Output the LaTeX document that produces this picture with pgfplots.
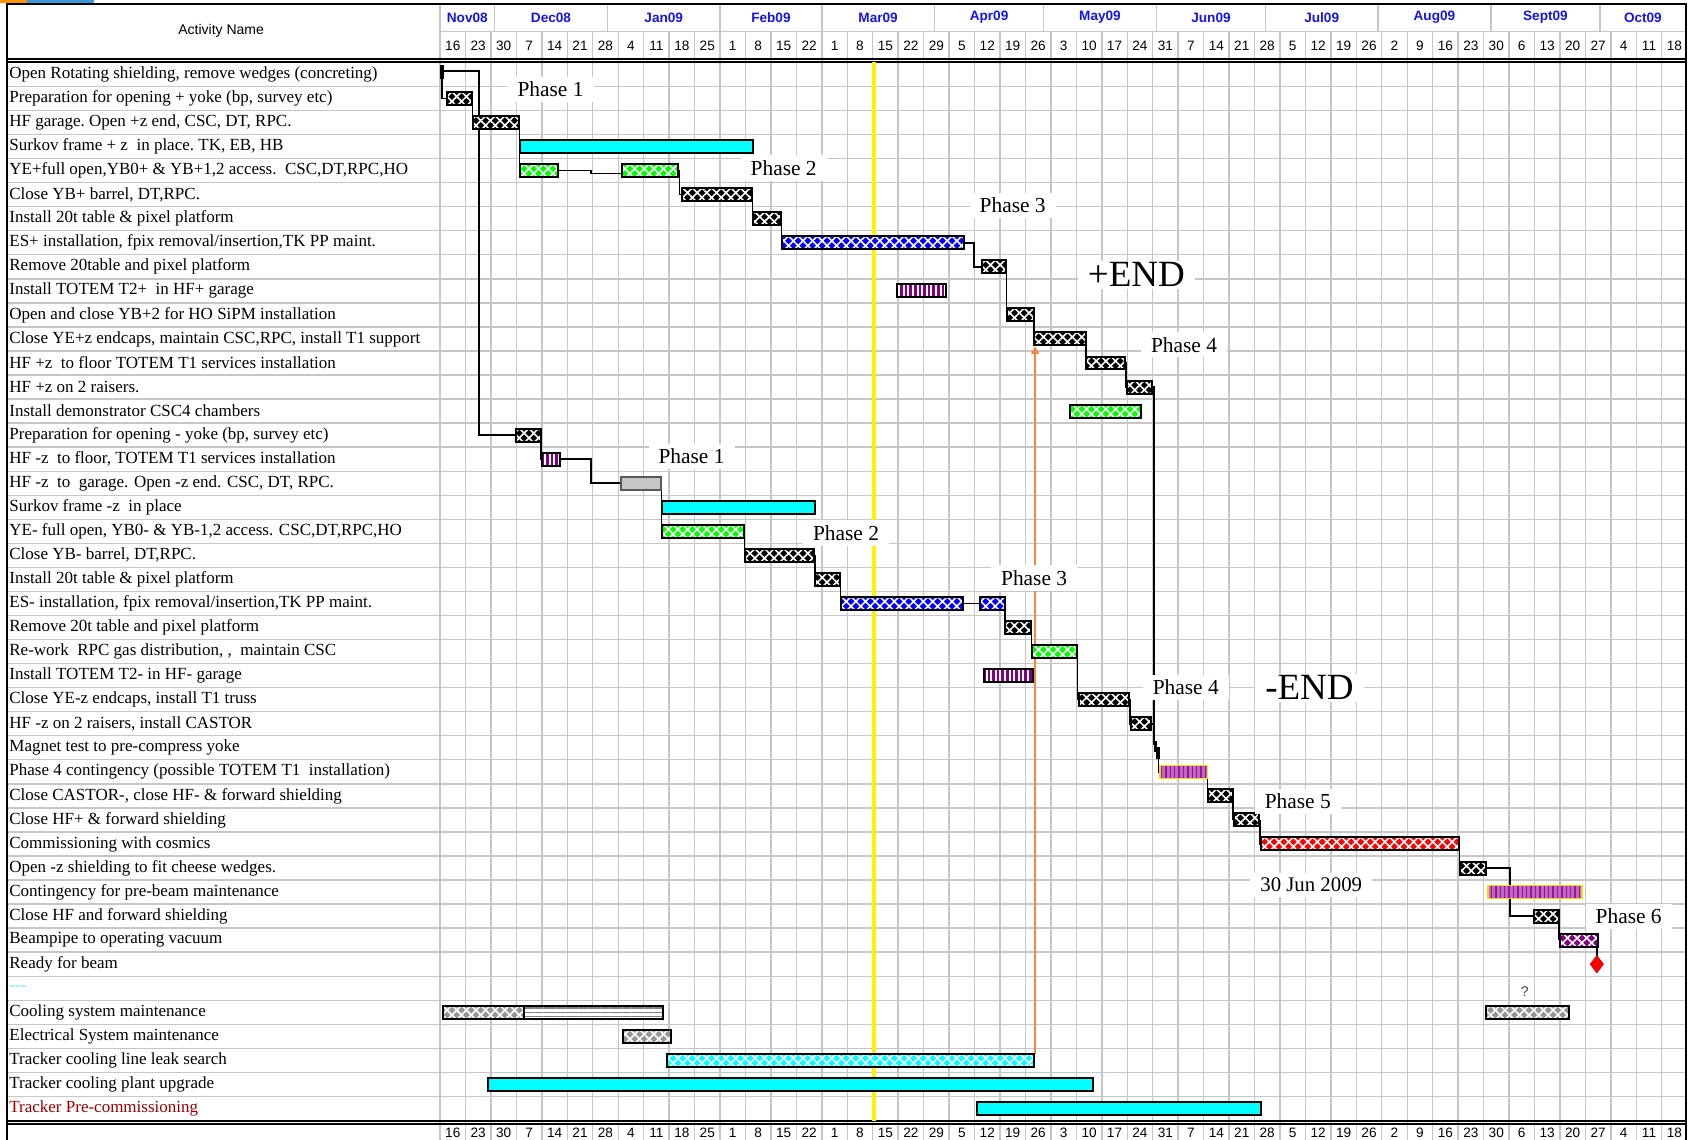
\documentclass[border=0pt]{standalone}
\usepackage{fontspec}
\setmainfont{Liberation Serif}
\newfontfamily\hdrfont{Liberation Sans}
\usepackage{xcolor}
\usepackage{pgfplots}
\pgfplotsset{compat=1.18}
\usetikzlibrary{patterns.meta,arrows.meta}

\definecolor{gridc}{RGB}{198,198,198}
\definecolor{monthblue}{RGB}{20,20,235}
\definecolor{mspurple}{RGB}{128,0,128}
\definecolor{lightpurple}{RGB}{196,100,196}
\definecolor{stripepurple}{RGB}{140,30,140}
\definecolor{arroworange}{RGB}{240,135,70}
\definecolor{darkred}{RGB}{150,0,0}
\definecolor{hatchgray}{RGB}{150,150,150}
\definecolor{bordyellow}{RGB}{250,215,0}
\definecolor{aqua}{RGB}{0,255,255}
\definecolor{lime}{RGB}{0,255,0}
\definecolor{pureblue}{RGB}{0,0,255}
\definecolor{purered}{RGB}{255,0,0}
\definecolor{dashcyan}{RGB}{120,230,240}

\tikzset{
  conn/.style={draw=black, line width=0.8pt},
  weave/.style={preaction={fill=#1}, pattern={Hatch[angle=45,distance=3.4pt,line width=0.8pt]},
    pattern color=white, draw=black, line width=1pt},
  blk/.style={weave=black},
  grn/.style={weave=lime},
  blu/.style={weave=pureblue},
  redb/.style={weave=purered},
  purb/.style={weave=mspurple},
  grayb/.style={weave=hatchgray},
  cyanh/.style={weave=aqua},
  cyanb/.style={fill=aqua, draw=black, line width=1pt},
  graysolid/.style={fill=gray!45, draw=gray!70!black, line width=0.8pt},
  stripe/.style={preaction={fill=white}, pattern={Lines[angle=90,distance=2.3pt,line width=1.3pt]},
    pattern color=mspurple, draw=black, line width=1pt},
  lstripe/.style={preaction={fill=lightpurple}, pattern={Lines[angle=90,distance=2.2pt,line width=0.7pt]},
    pattern color=stripepurple, draw=bordyellow, line width=0.8pt},
  hlines/.style={preaction={fill=white}, pattern={Lines[angle=0,distance=2.2pt,line width=0.6pt]},
    pattern color=gray, draw=black, line width=1pt},
  wklbl/.style={font=\hdrfont\fontsize{6.8}{8}\selectfont, inner sep=0pt},
  mlbl/.style={font=\hdrfont\bfseries\fontsize{6.8}{8}\selectfont, text=monthblue, inner sep=0pt},
  lbl/.style={fill=white, inner xsep=5pt, inner ysep=2.5pt, font=\fontsize{10.7}{12}\selectfont},
  endlbl/.style={fill=white, inner xsep=5pt, inner ysep=1pt, font=\fontsize{18.5}{20}\selectfont},
}

% one bar: style, start week, end week, row
\newcommand\gbar[4]{\addplot[#1, y filter/.expression={y+#4}] coordinates {(#2,-0.27) (#3,-0.27) (#3,0.27) (#2,0.27)} -- cycle;}
\def\wk#1/#2\relax{%
  \node[wklbl] at (axis cs:#1.5,-0.19) {#2};
  \node[wklbl] at (axis cs:#1.5,45.0) {#2};}

\begin{document}
\begin{tikzpicture}
\begin{axis}[
  scale only axis, width=845.5pt, height=570pt,
  xmin=-17.29, xmax=49.15, ymin=-2.095, ymax=45.31, y dir=reverse,
  axis line style={draw=none}, major tick length=0pt,
  xtick=\empty, ytick={1,...,44},
  yticklabels={
    {Open Rotating shielding, remove wedges (concreting)},
    {Preparation for opening + yoke (bp, survey etc)},
    {HF garage.\ Open +z end, CSC, DT, RPC.},
    {Surkov frame + z\ \ in place.\ TK, EB, HB},
    {YE+full open,YB0+ \& YB+1,2 access.\ \ CSC,DT,RPC,HO},
    {Close YB+ barrel, DT,RPC.},
    {Install 20t table \& pixel platform},
    {ES+ installation, fpix removal/insertion,TK PP maint.},
    {Remove 20table and pixel platform},
    {Install TOTEM T2+\ \ in HF+ garage},
    {Open and close YB+2 for HO SiPM installation},
    {Close YE+z endcaps, maintain CSC,RPC, install T1 support},
    {HF +z\ \ to floor TOTEM T1 services installation},
    {HF +z on 2 raisers.},
    {Install demonstrator CSC4 chambers},
    {Preparation for opening - yoke (bp, survey etc)},
    {HF -z\ \ to floor, TOTEM T1 services installation},
    {HF -z\ \ to\ \ garage. Open -z end. CSC, DT, RPC.},
    {Surkov frame -z\ \ in place},
    {YE- full open, YB0- \& YB-1,2 access. CSC,DT,RPC,HO},
    {Close YB- barrel, DT,RPC.},
    {Install 20t table \& pixel platform},
    {ES- installation, fpix removal/insertion,TK PP maint.},
    {Remove 20t table and pixel platform},
    {Re-work\ \ RPC gas distribution, ,\ \ maintain CSC},
    {Install TOTEM T2- in HF- garage},
    {Close YE-z endcaps, install T1 truss},
    {HF -z on 2 raisers, install CASTOR},
    {Magnet test to pre-compress yoke},
    {Phase 4 contingency (possible TOTEM T1\ \ installation)},
    {Close CASTOR-, close HF- \& forward shielding},
    {Close HF+ \& forward shielding},
    {Commissioning with cosmics},
    {Open -z shielding to fit cheese wedges.},
    {Contingency for pre-beam maintenance},
    {Close HF and forward shielding},
    {Beampipe to operating vacuum},
    {Ready for beam},
    {\textcolor{dashcyan}{-{}-{}-}},
    {Cooling system maintenance},
    {Electrical System maintenance},
    {Tracker cooling line leak search},
    {Tracker cooling plant upgrade},
    {\textcolor{darkred}{Tracker Pre-commissioning}}},
  yticklabel style={anchor=west, inner sep=0pt, xshift=4.5pt, font=\fontsize{8.5}{10}\selectfont},
  clip=false,
]
% grid
\pgfplotsinvokeforeach{1,...,48}{\draw[gridc, line width=0.7pt] (axis cs:#1,-0.78) -- (axis cs:#1,45.31);}
\draw[gridc, line width=0.7pt] (axis cs:0,-1.91) -- (axis cs:0,45.31);
\pgfplotsinvokeforeach{1,...,43}{\draw[gridc, line width=0.7pt] (axis cs:-17.03,#1.5) -- (axis cs:48.95,#1.5);}
\draw[gridc, line width=0.7pt] (axis cs:0,-0.78) -- (axis cs:48.95,-0.78);
\pgfplotsinvokeforeach{2.143,6.571,11,15,19.429,23.714,28.143,32.429,36.857,41.286,45.571}{
  \draw[gridc, line width=0.7pt] (axis cs:#1,-1.91) -- (axis cs:#1,-0.78);}
% frame
\draw[black, line width=1pt] (axis cs:-17.03,45.31) -- (axis cs:-17.03,-1.91) -- (axis cs:48.95,-1.91) -- (axis cs:48.95,45.31);
\draw[black, line width=1.1pt] (axis cs:-17.03,0.37) -- (axis cs:48.95,0.37);
\draw[black, line width=0.7pt] (axis cs:-17.03,0.49) -- (axis cs:48.95,0.49);
\draw[black, line width=0.7pt] (axis cs:-17.03,44.52) -- (axis cs:48.95,44.52);
\draw[black, line width=1.1pt] (axis cs:-17.03,44.64) -- (axis cs:48.95,44.64);
\fill[orange!85!yellow] (axis cs:-17.29,-2.095) rectangle (axis cs:-16.23,-1.97);
\fill[cyan!70!blue!80] (axis cs:-16.23,-2.095) rectangle (axis cs:-13.6,-1.97);

% header
\node[font=\hdrfont\fontsize{7}{8}\selectfont] at (axis cs:-8.6,-0.82) {Activity Name};
\node[mlbl] at (axis cs:1.07,-1.37) {Nov08};
\node[mlbl] at (axis cs:4.36,-1.37) {Dec08};
\node[mlbl] at (axis cs:8.79,-1.37) {Jan09};
\node[mlbl] at (axis cs:13.0,-1.37) {Feb09};
\node[mlbl] at (axis cs:17.21,-1.37) {Mar09};
\node[mlbl] at (axis cs:21.57,-1.37) {Apr09};
\node[mlbl] at (axis cs:25.93,-1.37) {May09};
\node[mlbl] at (axis cs:30.29,-1.37) {Jun09};
\node[mlbl] at (axis cs:34.64,-1.37) {Jul09};
\node[mlbl] at (axis cs:39.07,-1.37) {Aug09};
\node[mlbl] at (axis cs:43.43,-1.37) {Sept09};
\node[mlbl] at (axis cs:47.26,-1.37) {Oct09};
\pgfplotsinvokeforeach{0/16,1/23,2/30,3/7,4/14,5/21,6/28,7/4,8/11,9/18,10/25,11/1,12/8,13/15,14/22,15/1,16/8,17/15,18/22,19/29,20/5,21/12,22/19,23/26,24/3,25/10,26/17,27/24,28/31,29/7,30/14,31/21,32/28,33/5,34/12,35/19,36/26,37/2,38/9,39/16,40/23,41/30,42/6,43/13,44/20,45/27,46/4,47/11,48/18}{\wk#1\relax}

% status date and the tracker link
\draw[yellow, line width=2pt] (axis cs:17.05,0.5) -- (axis cs:17.05,44.5);
\draw[arroworange, line width=0.9pt, -{Triangle[width=4pt,length=4pt]}] (axis cs:23.38,41.73) -- (axis cs:23.38,12.3);

% links
\addplot[conn] coordinates {(0.15,0.85) (1.52,0.85) (1.52,16) (2.97,16)};
\addplot[conn] coordinates {(0.08,1.15) (0.08,2) (0.27,2)};
\addplot[conn] coordinates {(1.27,2) (1.27,3)};
\addplot[conn] coordinates {(3.12,3) (3.12,5) (3.16,5)};
\addplot[conn] coordinates {(4.62,5) (5.93,5) (5.93,5.12) (7.15,5.12)};
\addplot[conn] coordinates {(9.34,5) (9.4,5) (9.4,6) (9.49,6)};
\addplot[conn] coordinates {(12.28,6) (12.28,7)};
\addplot[conn] coordinates {(13.42,7) (13.42,8)};
\addplot[conn] coordinates {(20.57,8) (20.98,8) (20.98,9) (21.3,9)};
\addplot[conn] coordinates {(22.26,9) (22.26,11)};
\addplot[conn] coordinates {(23.34,11) (23.34,12)};
\addplot[conn] coordinates {(25.38,12) (25.38,13)};
\addplot[conn] coordinates {(26.9,13) (26.95,13) (26.95,14) (27.0,14)};
\addplot[conn] coordinates {(27.97,14) (28.06,14) (28.06,28.9)};
\addplot[conn] coordinates {(27.95,28) (28.06,28)};
\addplot[conn] coordinates {(28.22,29.4) (28.22,30) (28.28,30)};
\addplot[conn] coordinates {(30.16,30) (30.16,31)};
\addplot[conn] coordinates {(31.16,31) (31.16,32)};
\addplot[conn] coordinates {(32.21,32) (32.21,33) (32.26,33)};
\addplot[conn] coordinates {(40.05,33) (40.05,34)};
\addplot[conn] coordinates {(41.11,34) (42.04,34) (42.04,36) (42.97,36)};
\addplot[conn] coordinates {(43.97,36) (43.97,37)};
\addplot[conn] coordinates {(45.45,37) (45.45,38)};
\addplot[conn] coordinates {(3.96,16) (3.96,17) (4.0,17)};
\addplot[conn] coordinates {(4.7,17) (5.93,17) (5.93,18) (7.11,18)};
\addplot[conn] coordinates {(8.68,18) (8.7,18) (8.7,20) (8.72,20)};
\addplot[conn] coordinates {(11.93,20) (11.96,20) (11.96,21)};
\addplot[conn] coordinates {(14.72,21) (14.72,22)};
\addplot[conn] coordinates {(15.72,22) (15.74,22) (15.74,23)};
\addplot[conn] coordinates {(20.55,23) (21.2,23)};
\addplot[conn] coordinates {(22.18,23) (22.19,23) (22.19,24)};
\addplot[conn] coordinates {(23.2,24) (23.23,24) (23.23,25) (23.27,25)};
\addplot[conn] coordinates {(25.02,25) (25.05,25) (25.05,27) (25.09,27)};
\addplot[conn] coordinates {(27.07,27) (27.1,27) (27.1,28) (27.13,28)};

% small marks
\addplot[fill=black, draw=black, line width=0.5pt] coordinates {(0,0.62) (0.15,0.62) (0.15,1.15) (0,1.15)} -- cycle;
\addplot[fill=black, draw=black, line width=0.5pt] coordinates {(28.09,28.75) (28.16,28.75) (28.16,29.15) (28.09,29.15)} -- cycle;
\addplot[fill=black, draw=black, line width=0.5pt] coordinates {(28.16,29.0) (28.25,29.0) (28.25,29.45) (28.16,29.45)} -- cycle;

% bars
\gbar{blk}{0.27}{1.26}{2}
\gbar{blk}{1.28}{3.10}{3}
\gbar{cyanb}{3.16}{12.30}{4}
\gbar{grn}{3.16}{4.62}{5}
\gbar{grn}{7.15}{9.34}{5}
\gbar{blk}{9.49}{12.26}{6}
\gbar{blk}{12.30}{13.40}{7}
\gbar{blu}{13.44}{20.57}{8}
\gbar{blk}{21.30}{22.24}{9}
\gbar{stripe}{17.94}{19.89}{10}
\gbar{blk}{22.28}{23.34}{11}
\gbar{blk}{23.34}{25.38}{12}
\gbar{blk}{25.38}{26.90}{13}
\gbar{blk}{27.00}{27.97}{14}
\gbar{grn}{24.75}{27.55}{15}
\gbar{blk}{2.97}{3.95}{16}
\gbar{stripe}{4.00}{4.70}{17}
\gbar{graysolid}{7.11}{8.68}{18}
\gbar{cyanb}{8.72}{14.73}{19}
\gbar{grn}{8.72}{11.93}{20}
\gbar{blk}{11.98}{14.71}{21}
\gbar{blk}{14.73}{15.72}{22}
\gbar{blu}{15.76}{20.55}{23}
\gbar{blu}{21.20}{22.18}{23}
\gbar{blk}{22.20}{23.20}{24}
\gbar{grn}{23.27}{25.02}{25}
\gbar{stripe}{21.36}{23.29}{26}
\gbar{blk}{25.09}{27.07}{27}
\gbar{blk}{27.13}{27.95}{28}
\gbar{lstripe}{28.28}{30.16}{30}
\gbar{blk}{30.16}{31.14}{31}
\gbar{blk}{31.18}{32.19}{32}
\gbar{redb}{32.26}{40.03}{33}
\gbar{blk}{40.08}{41.11}{34}
\gbar{lstripe}{41.18}{44.86}{35}
\gbar{blk}{42.97}{43.97}{36}
\gbar{purb}{44.00}{45.48}{37}
\gbar{grayb}{0.13}{3.29}{40}
\gbar{hlines}{3.29}{8.74}{40}
\gbar{grayb}{41.10}{44.36}{40}
\gbar{grayb}{7.19}{9.06}{41}
\gbar{cyanh}{8.92}{23.34}{42}
\gbar{cyanb}{1.90}{25.64}{43}
\gbar{cyanb}{21.09}{32.25}{44}
\addplot[only marks, mark=diamond*, mark size=4.3pt, mark options={fill=purered, draw=purered!85!black}] coordinates {(45.45,38)};

% notes
\node[lbl] at (axis cs:4.34,1.63) {Phase 1};
\node[lbl] at (axis cs:13.5,4.89) {Phase 2};
\node[lbl] at (axis cs:22.5,6.45) {Phase 3};
\node[endlbl] at (axis cs:27.36,9.33) {+END};
\node[lbl] at (axis cs:29.23,12.25) {Phase 4};
\node[lbl] at (axis cs:9.88,16.88) {Phase 1};
\node[lbl] at (axis cs:15.95,20.07) {Phase 2};
\node[lbl] at (axis cs:23.34,21.94) {Phase 3};
\node[lbl] at (axis cs:29.3,26.5) {Phase 4};
\node[endlbl] at (axis cs:34.16,26.5) {-END};
\node[lbl] at (axis cs:33.7,31.24) {Phase 5};
\node[lbl, font=\fontsize{10.4}{12}\selectfont] at (axis cs:34.23,34.7) {30 Jun 2009};
\node[lbl] at (axis cs:46.7,36.0) {Phase 6};
\node[font=\hdrfont\fontsize{7}{8}\selectfont, text=black!75] at (axis cs:42.62,39.12) {?};
\end{axis}
\pgfresetboundingbox
\useasboundingbox (current axis.south west) rectangle (current axis.north east);
\end{tikzpicture}
\end{document}
